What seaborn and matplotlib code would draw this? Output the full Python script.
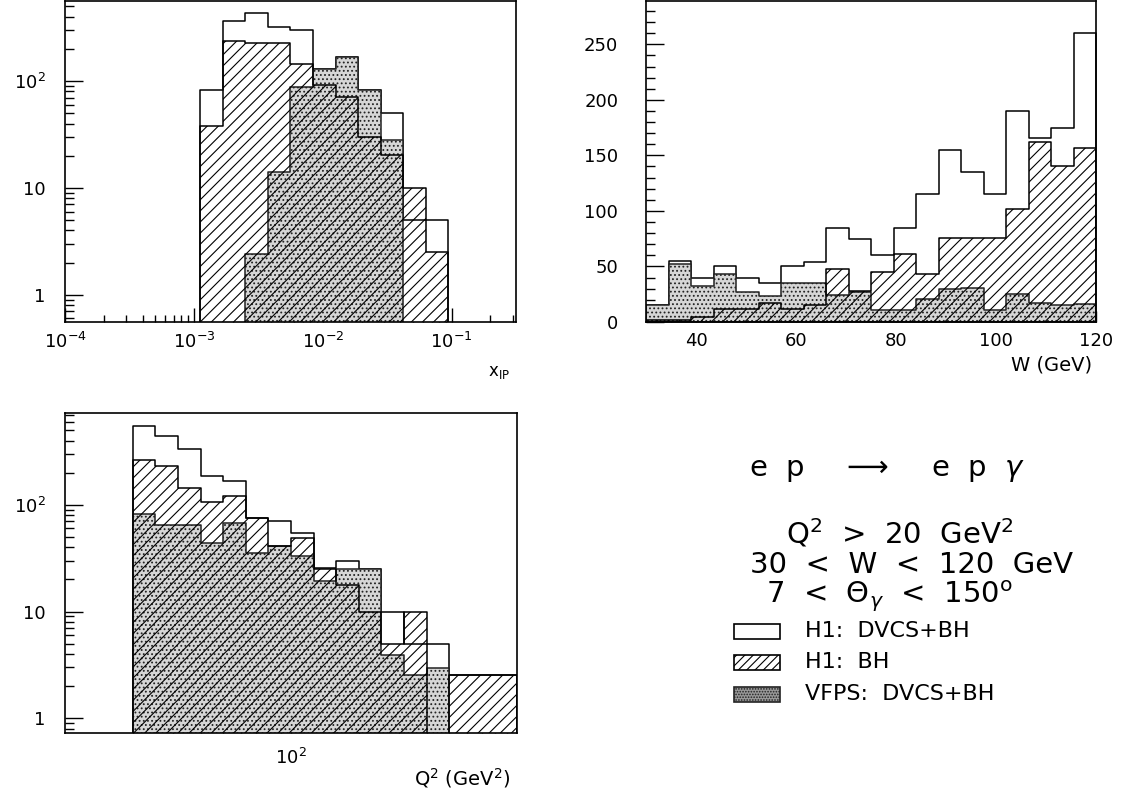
import numpy as np
import pandas as pd
import matplotlib
matplotlib.use("Agg")
import matplotlib.pyplot as plt
import seaborn as sns
from matplotlib.patches import Rectangle
from matplotlib.ticker import FixedLocator, NullFormatter, MultipleLocator, LogLocator

sns.set_theme(style="ticks")
plt.rcParams['font.family'] = ['DejaVu Sans']
plt.rcParams['hatch.linewidth'] = 0.8
plt.rcParams['axes.linewidth'] = 1.2
plt.rcParams['axes.edgecolor'] = 'black'

# x_IP histogram (log bins)
xip_edges = [0.001122, 0.001679, 0.002512, 0.003758, 0.005623, 0.008414,
             0.012589, 0.018836, 0.028184, 0.042170, 0.063096, 0.094406]
xip_total = [82, 365, 437, 320, 300, 130, 168, 82, 50, 5, 5]
xip_bh = [38, 237, 229, 229, 145, 92, 71, 30, 20.5, 10, 2.5]
xip_vfps = [0, 0, 2.4, 14, 88, 130, 168, 82, 28, 0, 0]

# W histogram
w_edges = [30, 34.5, 39, 43.5, 48, 52.5, 57, 61.5, 66, 70.5, 75,
           79.5, 84, 88.5, 93, 97.5, 102, 106.5, 111, 115.5, 120]
w_total = [15, 55, 40, 50, 40, 35, 50, 54, 85, 75, 60, 85, 115, 155, 135, 115, 190, 166, 175, 260]
w_bh = [2, 2, 4.5, 12, 12, 17, 12, 15, 48, 28, 45, 61, 43, 76, 76, 76, 102, 162, 140, 157]
w_vfps = [15, 52, 32, 43, 27, 23.5, 35.5, 35.5, 24, 27, 10.5, 11, 21, 30, 31, 10.5, 25.6, 17.4, 15, 16]

# Q^2 histogram (log bins)
q2_edges = [20, 25.1, 31.6, 39.8, 50.1, 63.1, 79.4, 100, 125.9, 158.5,
            199.5, 251.2, 316.2, 398.1, 501.2, 1000]
q2_total = [549, 443, 333, 187, 168, 76, 70, 55, 25.5, 30, 25, 10, 5, 5, 2.55]
q2_bh = [264, 229, 143, 107, 122, 75, 41, 49, 25, 17.8, 10, 5, 10, 0, 2.55]
q2_vfps = [82, 64, 64, 44, 67, 35, 41, 33, 19.5, 25, 25, 3.9, 2.55, 2.94, 0]

legend_labels = ["H1:  DVCS+BH", "H1:  BH", "VFPS:  DVCS+BH"]

W, H = 1127, 793
fig = plt.figure(figsize=(W / 100, H / 100), dpi=100)


def px_axes(left, top, right, bottom):
    return fig.add_axes([left / W, 1 - bottom / H, (right - left) / W, (bottom - top) / H])


def draw_hists(ax, edges, total, bh, vfps):
    arr = np.asarray(edges, dtype=float)
    df = pd.DataFrame({"x": (arr[:-1] + arr[1:]) / 2,
                       "total": total, "bh": bh, "vfps": vfps})
    bins = list(edges)
    sns.histplot(data=df, x="x", weights="total", bins=bins, element="step", fill=True,
                 color="black", facecolor="white", edgecolor="black", linewidth=1.1, ax=ax)
    sns.histplot(data=df, x="x", weights="vfps", bins=bins, element="step", fill=True,
                 color="black", facecolor="#d6d6d6", edgecolor="#222222", hatch="....",
                 linewidth=1.1, ax=ax)
    sns.histplot(data=df, x="x", weights="bh", bins=bins, element="step", fill=True,
                 color="black", facecolor="none", edgecolor="black", hatch="///",
                 linewidth=1.1, ax=ax)
    ax.set_xlabel("")
    ax.set_ylabel("")


def style_axes(ax):
    for s in ax.spines.values():
        s.set_visible(True)
        s.set_color("black")
        s.set_linewidth(1.2)
    ax.tick_params(which="both", direction="in", top=False, right=False,
                   colors="black", labelsize=13, width=1)
    ax.tick_params(axis="y", which="major", length=13, pad=14)
    ax.tick_params(axis="y", which="minor", length=6.5)
    ax.tick_params(axis="x", which="major", length=10, pad=7)
    ax.tick_params(axis="x", which="minor", length=5)


log_y_labels = ["1", "10", "$10^2$"]

# ---- top left: x_IP
ax1 = px_axes(65, 1, 516, 322)
draw_hists(ax1, xip_edges, xip_total, xip_bh, xip_vfps)
ax1.set_xscale("log")
ax1.set_yscale("log")
ax1.set_xlim(1e-4, 10 ** -0.5)
ax1.set_ylim(10 ** -0.256, 10 ** 2.75)
ax1.xaxis.set_major_locator(FixedLocator([1e-4, 1e-3, 1e-2, 1e-1]))
ax1.set_xticklabels(["$10^{-4}$", "$10^{-3}$", "$10^{-2}$", "$10^{-1}$"])
ax1.xaxis.set_minor_locator(LogLocator(base=10, subs=np.arange(2, 10)))
ax1.xaxis.set_minor_formatter(NullFormatter())
ax1.yaxis.set_major_locator(FixedLocator([1, 10, 100]))
ax1.set_yticklabels(log_y_labels)
ax1.yaxis.set_minor_locator(LogLocator(base=10, subs=np.arange(2, 10)))
ax1.yaxis.set_minor_formatter(NullFormatter())
style_axes(ax1)

# ---- top right: W
ax2 = px_axes(646, 1, 1096, 322)
draw_hists(ax2, w_edges, w_total, w_bh, w_vfps)
ax2.set_xlim(30, 120)
ax2.set_ylim(0, 289)
ax2.xaxis.set_major_locator(FixedLocator([40, 60, 80, 100, 120]))
ax2.xaxis.set_minor_locator(MultipleLocator(5))
ax2.yaxis.set_major_locator(MultipleLocator(50))
ax2.yaxis.set_minor_locator(MultipleLocator(10))
style_axes(ax2)
ax2.tick_params(axis="y", which="major", pad=20)
ax2.tick_params(axis="x", which="major", length=8)
ax2.tick_params(axis="x", which="minor", length=4)

# ---- bottom left: Q^2
ax3 = px_axes(65, 413, 517, 733)
draw_hists(ax3, q2_edges, q2_total, q2_bh, q2_vfps)
ax3.set_xscale("log")
ax3.set_yscale("log")
ax3.set_xlim(10, 1000)
ax3.set_ylim(10 ** -0.138, 10 ** 2.86)
ax3.xaxis.set_major_locator(FixedLocator([100]))
ax3.set_xticklabels(["$10^2$"])
ax3.xaxis.set_minor_locator(LogLocator(base=10, subs=np.arange(2, 10)))
ax3.xaxis.set_minor_formatter(NullFormatter())
ax3.yaxis.set_major_locator(FixedLocator([1, 10, 100]))
ax3.set_yticklabels(log_y_labels)
ax3.yaxis.set_minor_locator(LogLocator(base=10, subs=np.arange(2, 10)))
ax3.yaxis.set_minor_formatter(NullFormatter())
style_axes(ax3)
ax3.tick_params(axis="x", which="major", pad=11)


def ftext(x, y, s, **kw):
    fig.text(x / W, 1 - y / H, s, color="black", **kw)


# axis titles
ftext(510, 372, r"x$_{\rm IP}$", fontsize=12, ha="right", va="center")
ftext(1092, 365, "W (GeV)", fontsize=14, ha="right", va="center")
ftext(510, 778, "Q$^2$ (GeV$^2$)", fontsize=14, ha="right", va="center")

# process and cuts
ftext(887, 470, r"e  p    $\longrightarrow$    e  p  $\gamma$", fontsize=21, ha="center", va="center")
ftext(900, 533, "Q$^2$  >  20  GeV$^2$", fontsize=21, ha="center", va="center")
ftext(911, 565, "30  <  W  <  120  GeV", fontsize=21, ha="center", va="center")
ftext(889, 597, r"7  <  $\Theta_{\gamma}$  <  150$^{\rm o}$", fontsize=21, ha="center", va="center")

# legend
swatches = [dict(facecolor="white", edgecolor="black", hatch=None),
            dict(facecolor="white", edgecolor="black", hatch="////"),
            dict(facecolor="#9a9a9a", edgecolor="#222222", hatch="......")]
rows = [631, 662, 694]
for lab, sw, yc in zip(legend_labels, swatches, rows):
    fig.add_artist(Rectangle((734 / W, 1 - (yc + 7.5) / H), 46 / W, 15 / H,
                             transform=fig.transFigure, linewidth=1.2, **sw))
    ftext(805, yc, lab, fontsize=16, ha="left", va="center")

fig.savefig("out.png", dpi=100)
